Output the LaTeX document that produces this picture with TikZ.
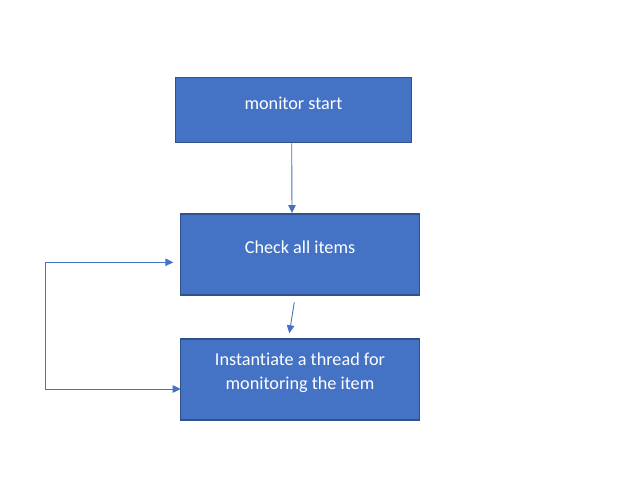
\documentclass[tikz,border=0pt]{standalone}
\usepackage{fontspec}
\setmainfont{Carlito}[Ligatures={NoCommon}]
\usetikzlibrary{arrows.meta}
\definecolor{boxfill}{HTML}{4472C4}
\definecolor{boxedge}{HTML}{2F528F}
\tikzset{
  blockbox/.style={draw=boxedge, line width=1.5pt, fill=boxfill, rectangle, inner sep=0pt},
  boxtext/.style={text=white, font=\fontsize{18.2}{24.3}\selectfont, align=center, yshift=6.7pt},
  flow/.style={draw=boxfill, line width=0.9pt, -{Triangle[length=8pt,width=7.5pt]}}
}
\begin{document}
\begin{tikzpicture}[x=1pt, y=-1pt]
          \useasboundingbox (0,0) rectangle (618,495);

          % Boxes
          \node[blockbox, minimum width=236pt, minimum height=65pt,
                label={[boxtext]center:monitor start}] (start) at (293.5,110) {};
          \node[blockbox, minimum width=238.6pt, minimum height=81pt,
                label={[boxtext]center:Check all items}] (check) at (300,254.3) {};
          \node[blockbox, minimum width=238.6pt, minimum height=81pt,
                label={[boxtext]center:Instantiate a thread for\\monitoring the item}] (inst) at (300,379.5) {};

          % Loop ends
          \coordinate (loopin) at (173.3,262.3);
          \coordinate (loopout) at (180.7,389);
          \coordinate (loopside) at (45.3,320);

          % Edges
          \draw [flow] ([xshift=-1.8pt]start.south) -- ([xshift=-8pt]check.north);
          \draw [flow] ([xshift=-5.7pt,yshift=-6.7pt]check.south) -- ([xshift=-10.7pt,yshift=5pt]inst.north);
          \draw [flow, {Triangle[length=8pt,width=7.5pt]}-{Triangle[length=8pt,width=7.5pt]}]
                (loopin) -| (loopside) |- (loopout);
        \end{tikzpicture}
\end{document}
